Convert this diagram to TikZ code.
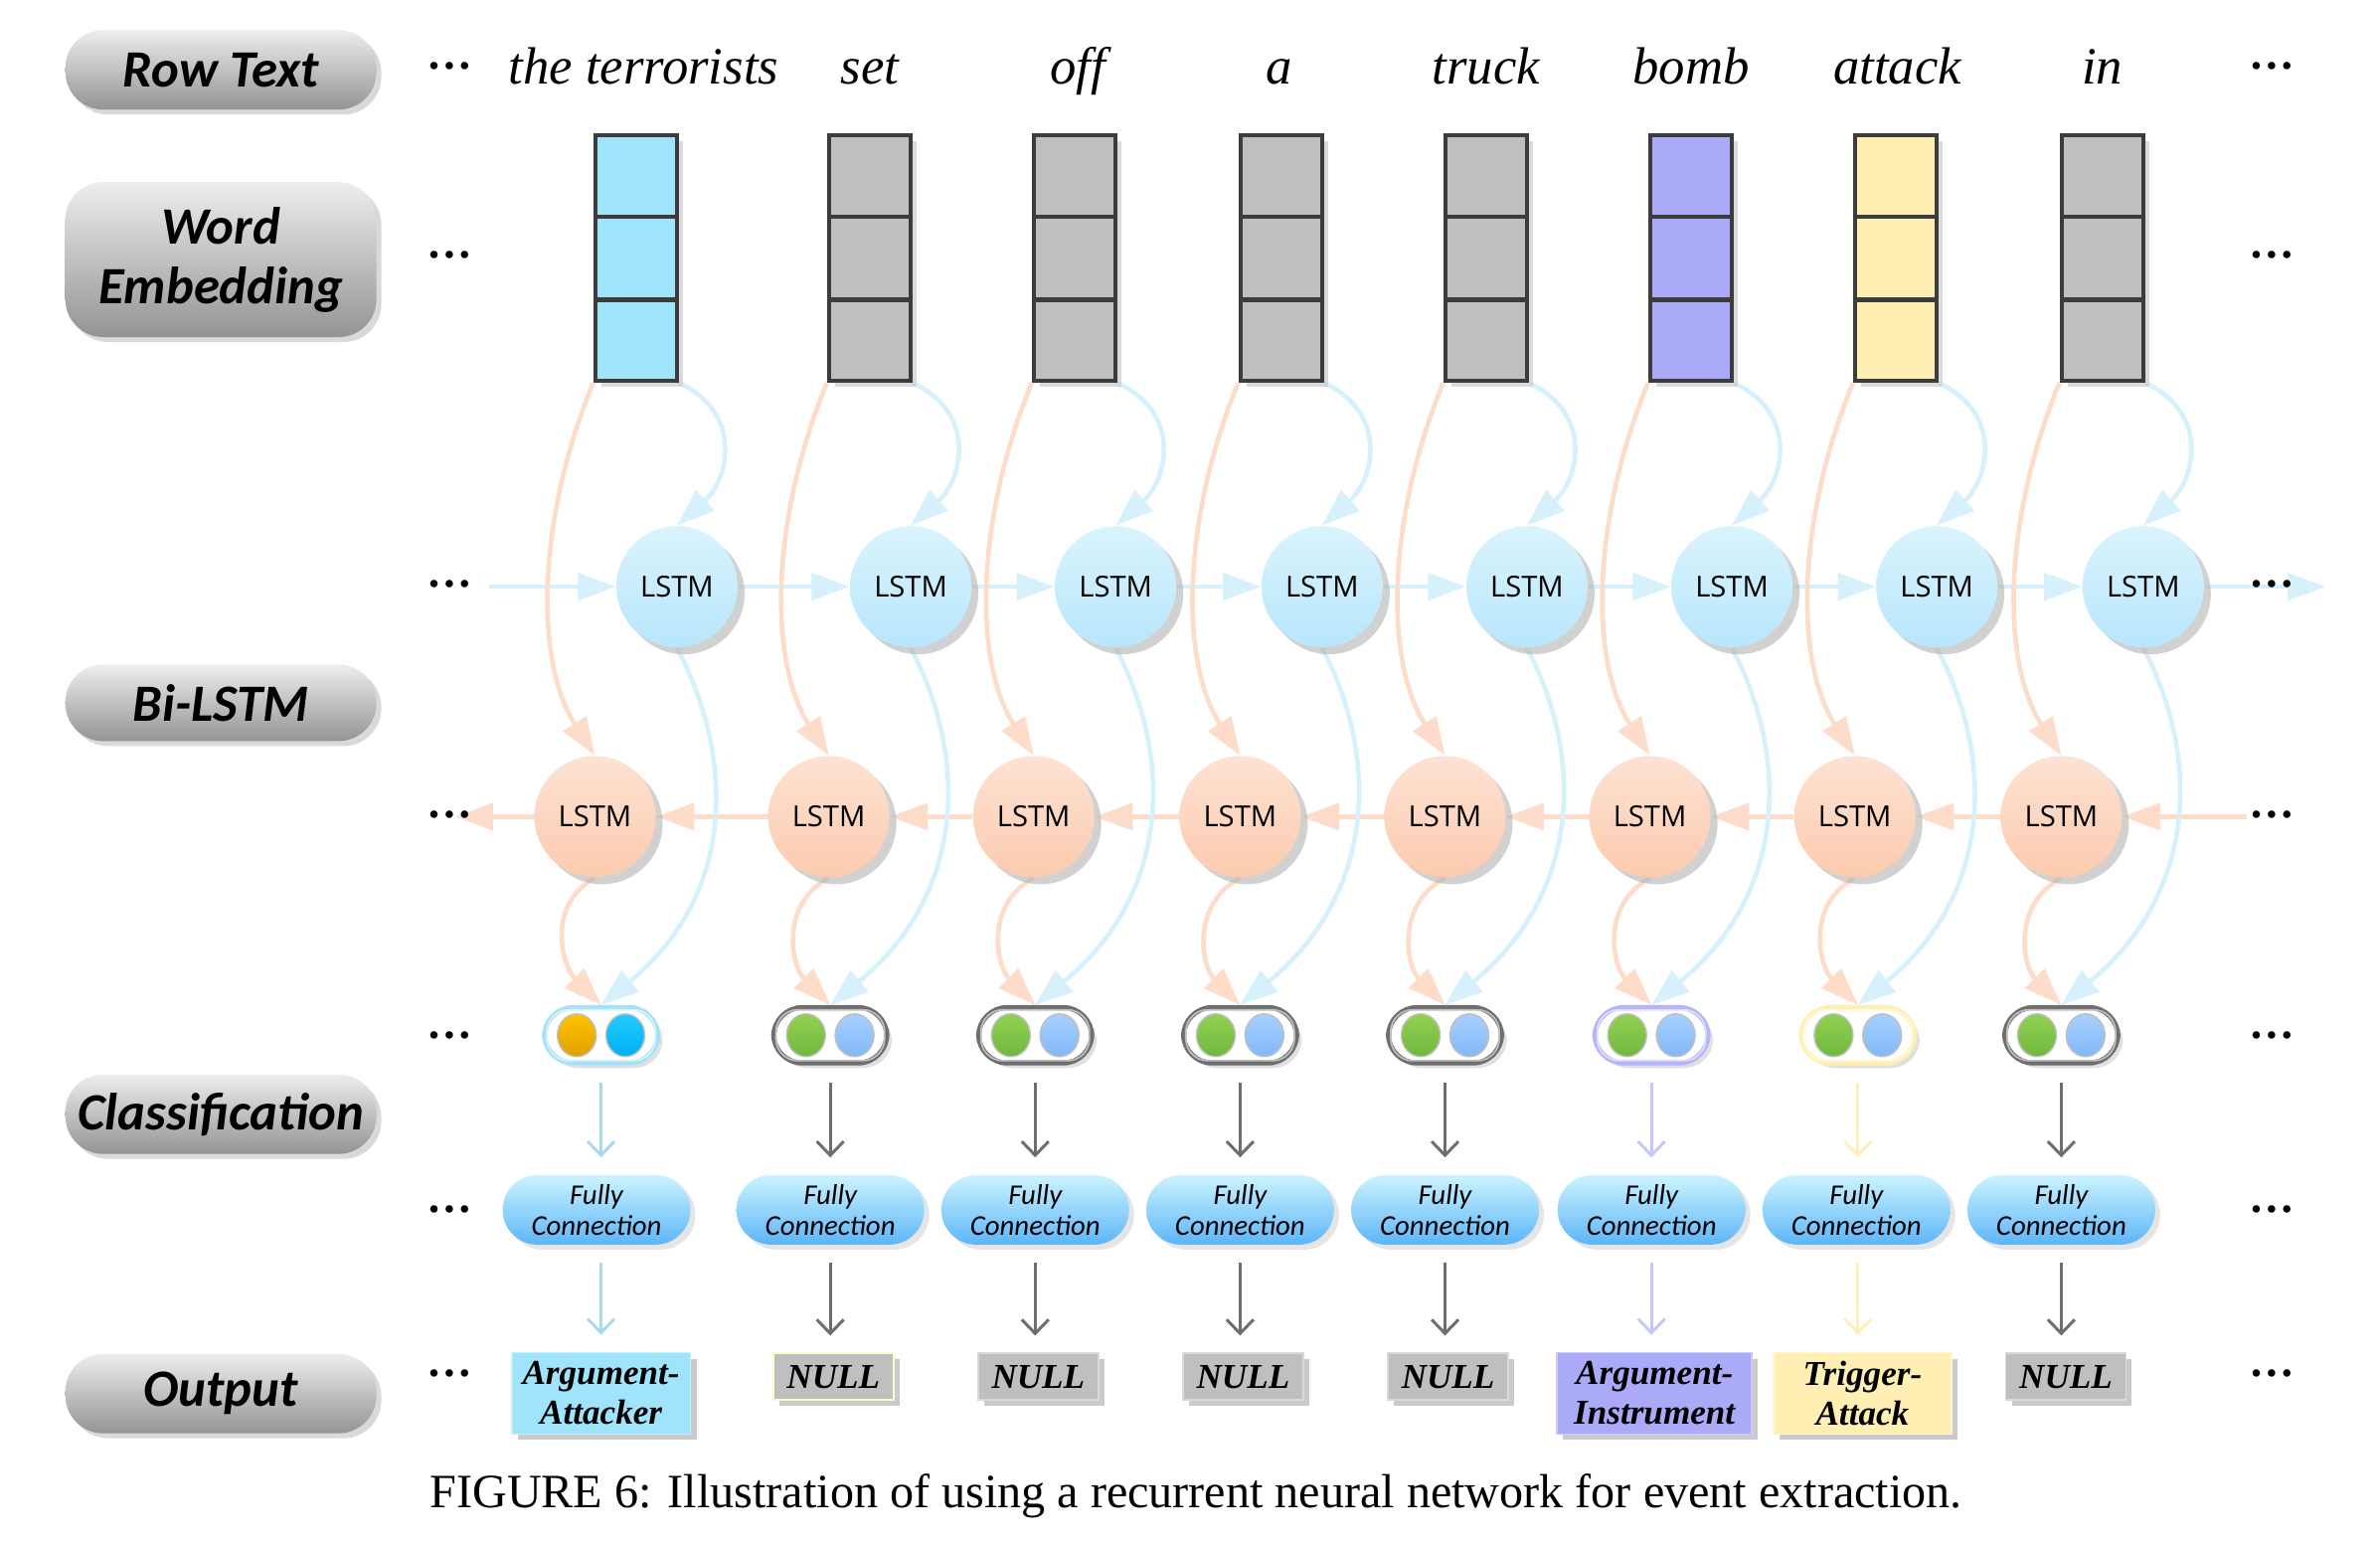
\documentclass[tikz,border=0pt]{standalone}
\usepackage{fontspec}
\setmainfont{Liberation Serif}
\newfontfamily\carlito{Carlito}
\newfontfamily\opensans{Open Sans}
\usetikzlibrary{arrows.meta,shadows,calc,backgrounds,shapes.geometric}

\definecolor{embblue}{HTML}{A0E4FC}
\definecolor{embgrey}{HTML}{BFBFBF}
\definecolor{embpurple}{HTML}{AAAAF8}
\definecolor{embyellow}{HTML}{FFEFB2}
\definecolor{embborder}{HTML}{3C3C3C}
\definecolor{fwtop}{HTML}{DAF4FE}
\definecolor{fwbot}{HTML}{B8E6FB}
\definecolor{bwtop}{HTML}{FDE2D3}
\definecolor{bwbot}{HTML}{FCCBAE}
\definecolor{fwline}{HTML}{D6F0FC}
\definecolor{bwline}{HTML}{FDDCCA}
\definecolor{fctop}{HTML}{CCF4FF}
\definecolor{fcbot}{HTML}{5DB5F8}
\definecolor{greentop}{HTML}{92D152}
\definecolor{greenbot}{HTML}{6FB83D}
\definecolor{lbluetop}{HTML}{A8D0FF}
\definecolor{lbluebot}{HTML}{80B8F8}
\definecolor{orangetop}{HTML}{FFC400}
\definecolor{orangebot}{HTML}{DFA000}
\definecolor{cyantop}{HTML}{22CCFF}
\definecolor{cyanbot}{HTML}{00B0F2}
\definecolor{ringblue}{HTML}{A5E2F8}
\definecolor{ringgrey}{HTML}{6E6E6E}
\definecolor{ringpurple}{HTML}{B4B4FA}
\definecolor{ringyellow}{HTML}{FFEFB0}
\definecolor{arrblue}{HTML}{A6DAEE}
\definecolor{arrpurple}{HTML}{C6C6FA}
\definecolor{arryellow}{HTML}{FFEFB8}
\definecolor{arrgrey}{HTML}{6E6E6E}

\tikzset{
  labelpill/.style={rounded corners=0.38cm, minimum width=3.13cm, inner sep=0pt,
    top color=black!7, bottom color=black!42, align=center,
    drop shadow={shadow xshift=0.05cm, shadow yshift=-0.05cm, fill=black!25, opacity=0.6},
    font=\carlito\bfseries\itshape\fontsize{15}{17}\selectfont},
  dotsty/.style={inner sep=0pt, font=\bfseries\fontsize{13}{13}\selectfont},
  wordsty/.style={inner sep=0pt, font=\itshape\fontsize{15}{17}\selectfont},
  embsty/.style={rectangle, minimum width=0.82cm, minimum height=2.47cm, inner sep=0pt,
    draw=embborder, line width=1.2pt,
    drop shadow={shadow xshift=0.06cm, shadow yshift=-0.06cm, fill=black!20, opacity=0.7}},
  embline/.style={draw=embborder, line width=1.2pt},
  lstmbase/.style={circle, minimum size=1.22cm, inner sep=0pt,
    drop shadow={shadow xshift=0.07cm, shadow yshift=-0.07cm, fill=black!30, opacity=0.6},
    font=\opensans\fontsize{8.3}{10}\selectfont},
  lstmf/.style={lstmbase, top color=fwtop, bottom color=fwbot},
  lstmb/.style={lstmbase, top color=bwtop, bottom color=bwbot},
  classpill/.style={rectangle, rounded corners=0.29cm, minimum width=1.14cm, minimum height=0.56cm,
    inner sep=0pt, draw=#1, line width=1.4pt, fill=white,
    drop shadow={shadow xshift=0.05cm, shadow yshift=-0.05cm, fill=black!20, opacity=0.6}},
  innerring/.style={draw=#1!45!white, line width=0.5pt, rounded corners=0.22cm},
  dotsh/.style 2 args={ellipse, minimum width=0.39cm, minimum height=0.43cm, inner sep=0pt,
    top color=#1, bottom color=#2, draw=black!25, line width=0.4pt},
  fcpill/.style={rectangle, rounded corners=0.35cm, minimum width=1.89cm, minimum height=0.70cm,
    inner sep=0pt, top color=fctop, bottom color=fcbot, align=center,
    drop shadow={shadow xshift=0.05cm, shadow yshift=-0.05cm, fill=black!20, opacity=0.5},
    font=\carlito\itshape\fontsize{8.2}{8.8}\selectfont},
  outbox/.style={rectangle, fill=#1, draw=#1!60!white, line width=0.5pt, inner sep=0pt, align=center,
    minimum height=0.82cm,
    drop shadow={shadow xshift=0.06cm, shadow yshift=-0.06cm, fill=black!35, opacity=0.6},
    font=\bfseries\itshape\fontsize{10}{11.4}\selectfont},
  fwarrow/.style={draw=fwline, line width=1.3pt, -{Triangle[width=0.27cm,length=0.38cm]}},
  bwarrow/.style={draw=bwline, line width=1.3pt, -{Triangle[width=0.27cm,length=0.38cm]}},
  varrow/.style={draw=#1, line width=0.85pt, -{Straight Barb[width=0.27cm,length=0.14cm]},
    shorten <=0.17cm, shorten >=0.17cm},
}

\begin{document}
\begin{tikzpicture}[x=0.015268cm, y=-0.015268cm]
\useasboundingbox (0,0) rectangle (1568,1017.8);

% row labels
\node[labelpill, minimum height=0.80cm] (lrow) at (145.5,46) {Row Text};
\node[labelpill, minimum height=1.56cm] (lemb) at (145.5,171) {Word\\Embedding};
\node[labelpill, minimum height=0.77cm] (lbi) at (145.5,463) {Bi-LSTM};
\node[labelpill, minimum height=0.80cm] (lcls) at (145.5,734) {Classification};
\node[labelpill, minimum height=0.80cm] (lout) at (145.5,918) {Output};

% ellipses at both ends of each row
\foreach \n/\y in {1/43.5,2/168,3/385,4/537,5/682,6/797,7/905}{
  \node[dotsty] (ld\n) at (296,\y) {…};
  \node[dotsty] (rd\n) at (1497,\y) {…};
}

% words
\foreach \n/\x/\w in {1/424/{the terrorists},2/573/set,3/710/off,4/843/a,5/979/truck,6/1114/bomb,7/1250/attack,8/1385/in}{
  \node[wordsty, anchor=base] (w\n) at (\x,55.5) {\w};
}

% embeddings and LSTMs
\foreach \n/\x/\c in {1/419/embblue,2/573/embgrey,3/708/embgrey,4/844/embgrey,5/979/embgrey,6/1114/embpurple,7/1249/embyellow,8/1385/embgrey}{
  \node[embsty, fill=\c] (e\n) at (\x,170) {};
  \draw[embline] ($(e\n.north west)!1/3!(e\n.south west)$) -- ($(e\n.north east)!1/3!(e\n.south east)$);
  \draw[embline] ($(e\n.north west)!2/3!(e\n.south west)$) -- ($(e\n.north east)!2/3!(e\n.south east)$);
  \node[lstmf] (f\n) at (\x+27,386.5) {LSTM};
  \node[lstmb] (b\n) at (\x-27,538) {LSTM};
}

% classification pills
\foreach \n/\x/\r/\ta/\ba/\tb/\bb in {1/396/ringblue/orangetop/orangebot/cyantop/cyanbot,
  2/547/ringgrey/greentop/greenbot/lbluetop/lbluebot,
  3/682/ringgrey/greentop/greenbot/lbluetop/lbluebot,
  4/817/ringgrey/greentop/greenbot/lbluetop/lbluebot,
  5/952/ringgrey/greentop/greenbot/lbluetop/lbluebot,
  6/1088/ringpurple/greentop/greenbot/lbluetop/lbluebot,
  7/1224/ringyellow/greentop/greenbot/lbluetop/lbluebot,
  8/1358/ringgrey/greentop/greenbot/lbluetop/lbluebot}{
  \node[classpill=\r] (c\n) at (\x,682) {};
  \draw[innerring=\r] ($(c\n.south west)+(3.2,-3.2)$) rectangle ($(c\n.north east)+(-3.2,3.2)$);
  \node[dotsh={\ta}{\ba}] (ca\n) at ($(c\n)+(-16,0)$) {};
  \node[dotsh={\tb}{\bb}] (cb\n) at ($(c\n)+(16,0)$) {};
}

% fully connection
\foreach \n/\x in {1/393,2/547,3/682,4/817,5/952,6/1088,7/1223,8/1358}{
  \node[fcpill] (fc\n) at (\x,797) {Fully\\Connection};
}

% outputs
\node[outbox=embblue, minimum width=1.80cm, anchor=north] (o1) at (396,890.5) {Argument-\\Attacker};
\node[outbox=embgrey, draw=yellow!20!white, minimum width=1.21cm, minimum height=0.47cm, anchor=north] (o2) at (549,891) {NULL};
\node[outbox=embgrey, minimum width=1.21cm, minimum height=0.47cm, anchor=north] (o3) at (684,891) {NULL};
\node[outbox=embgrey, minimum width=1.21cm, minimum height=0.47cm, anchor=north] (o4) at (819,891) {NULL};
\node[outbox=embgrey, minimum width=1.21cm, minimum height=0.47cm, anchor=north] (o5) at (954,891) {NULL};
\node[outbox=embpurple, minimum width=1.96cm, anchor=north] (o6) at (1090,890.5) {Argument-\\Instrument};
\node[outbox=embyellow, minimum width=1.79cm, anchor=north] (o7) at (1227,890.5) {Trigger-\\Attack};
\node[outbox=embgrey, minimum width=1.21cm, minimum height=0.47cm, anchor=north] (o8) at (1361,891) {NULL};

% chain end points
\coordinate (fl) at (322,386.5);
\coordinate (fr) at (1532,386.5);
\coordinate (br) at (1480,538);
\coordinate (bl) at (300,538);

% caption
\node[inner sep=0pt, anchor=base, font=\fontsize{13.7}{16}\selectfont] (cap) at (788,993.5)
  {FIGURE 6: Illustration of using a recurrent neural network for event extraction.};

\begin{scope}[on background layer]
  % horizontal chains
  \draw[fwarrow] (fl) -- (f1);
  \foreach \i/\j in {1/2,2/3,3/4,4/5,5/6,6/7,7/8}{
    \draw[fwarrow] (f\i) -- (f\j);
    \draw[bwarrow] (b\j) -- (b\i);
  }
  \draw[fwarrow] (f8) -- (fr);
  \draw[bwarrow] (br) -- (b8);
  \draw[bwarrow] (b1) -- (bl);
  % curves
  \foreach \n in {1,...,8}{
    \draw[bwarrow] (e\n.south west) .. controls +(-37,90) and +(-40,-62) .. (b\n.north);
    \draw[fwarrow] (e\n.south east) .. controls +(43,20) and +(34,-30) .. (f\n.north);
    \draw[fwarrow] (f\n.south) .. controls +(39,74) and +(88,-72) .. (c\n.north);
    \draw[bwarrow] (b\n.south) .. controls +(-32,17) and +(-26,-26) .. (c\n.north);
  }
\end{scope}

% vertical arrows
\foreach \n/\a in {1/arrblue,2/arrgrey,3/arrgrey,4/arrgrey,5/arrgrey,6/arrpurple,7/arryellow,8/arrgrey}{
  \draw[varrow=\a] (c\n.south) -- (c\n.south |- fc\n.north);
  \draw[varrow=\a] (c\n.south |- fc\n.south) -- (c\n.south |- o\n.north);
}
\end{tikzpicture}
\end{document}
